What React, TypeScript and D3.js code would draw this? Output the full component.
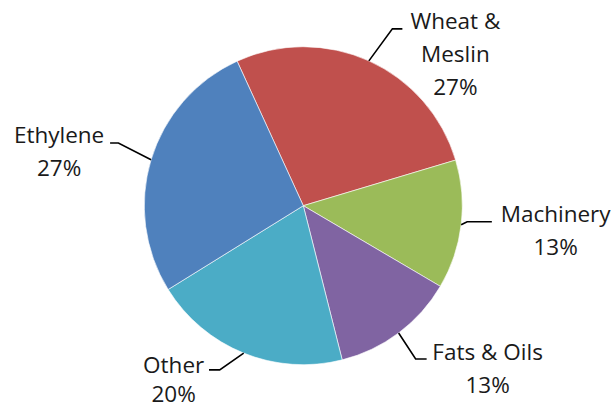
import React from "react";
import * as d3 from "d3";

const categories = ["Wheat & Meslin", "Machinery", "Fats & Oils", "Other", "Ethylene"];
const values = [27.2, 13.1, 12.6, 20.1, 27.0];
const colors = ["#C0504D", "#9BBB59", "#8064A2", "#4BACC6", "#4F81BD"];
const labelLines = [["Wheat &", "Meslin"], ["Machinery"], ["Fats & Oils"], ["Other"], ["Ethylene"]];
// leader layout offsets relative to slice edge midpoint: [elbowDx, elbowDy, endDx, endDy, textDx, textDy]
const leaderLayout = [
  [23.5, -32, 33.5, -32, 86.5, -32],
  [6, -3, 30.7, -3, 94.5, -3],
  [17, 26, 28, 26, 89, 27],
  [-24, 16.8, -34.7, 16.8, -70, 19.5],
  [-32.7, -16.7, -41, -16.7, -92, -16.7],
];

const W = 616, H = 408;
const cx = 303.3, cy = 205.7, R = 159;
const startAngle = (-24.6 * Math.PI) / 180;
const lineH = 33;

export default function App() {
  const total = d3.sum(values);
  const pie = d3.pie<number>().sort(null).value((d) => d).startAngle(startAngle).endAngle(startAngle + 2 * Math.PI);
  const arcs = pie(values);
  const arc = d3.arc<d3.PieArcDatum<number>>().innerRadius(0).outerRadius(R);
  return (
    <svg width={W} height={H} style={{ position: "absolute", left: 0, top: 0, background: "#fff" }}>
      <g transform={`translate(${cx},${cy})`}>
        {arcs.map((a, i) => (
          <path key={i} d={arc(a) || ""} fill={colors[i]} stroke="#ffffff" strokeWidth={0.6} />
        ))}
      </g>
      {arcs.map((a, i) => {
        const mid = (a.startAngle + a.endAngle) / 2;
        const ex = cx + R * Math.sin(mid);
        const ey = cy - R * Math.cos(mid);
        const [bx, by, tx, ty, lx, ly] = leaderLayout[i];
        const pct = Math.round((values[i] / total) * 100) + "%";
        const lines = [...labelLines[i], pct];
        const lh = i === 3 ? 29 : lineH;
        return (
          <g key={i}>
            <polyline
              points={`${ex},${ey} ${ex + bx},${ey + by} ${ex + tx},${ey + ty}`}
              fill="none"
              stroke="#000"
              strokeWidth={1.6}
            />
            <text
              x={ex + lx}
              y={ey + ly}
              textAnchor="middle"
              fontFamily="'Open Sans', sans-serif"
              fontSize={22.5}
              fill="#1a1a1a"
            >
              {lines.map((t, j) => (
                <tspan key={j} x={ex + lx} dy={j === 0 ? 0 : lh}>
                  {t}
                </tspan>
              ))}
            </text>
          </g>
        );
      })}
    </svg>
  );
}
